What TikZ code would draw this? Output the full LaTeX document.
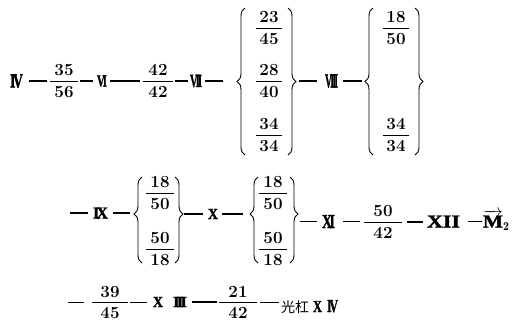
\documentclass[tikz,border=0pt]{standalone}
\usepackage{graphicx}
\usepackage{fontspec}
\newfontfamily\cjk{Noto Sans CJK SC}
\newfontfamily\rnfont[FakeBold=1.5]{Liberation Serif}
\usetikzlibrary{decorations.pathreplacing}
\newcommand\rn[3]{\resizebox{#1}{#2}{\rnfont\bfseries #3}}
\newcommand\kk{\kern-.18em}
\newcommand\fr[3]{\vbox{\hbox to #1{\hss#2\hss}\kern4.8pt\hrule height 0.8pt\kern4.8pt\hbox to #1{\hss#3\hss}}}
\begin{document}
\begin{tikzpicture}[x=1pt,y=-1pt,
  every node/.style={inner sep=0pt, outer sep=0pt, font=\fontsize{17}{19}\selectfont\bfseries},
  conn/.style={line width=1.4pt},
  brc/.style={line width=0.9pt, decorate, decoration={brace,amplitude=8pt}}]
\useasboundingbox (0,0) rectangle (514,322);
% ---------- row 1
\node (r4) at (16.5,81) {\rn{13pt}{13pt}{I\kk V}};
\node (f1) at (64,81) {\fr{28pt}{35}{56}};
\node (r6) at (102,81) {\rn{10pt}{11pt}{V\kk I}};
\node (f2) at (158,81) {\fr{30pt}{42}{42}};
\node (r7) at (196,81) {\rn{12pt}{12pt}{V\kk I\kk I}};
\node (g1a) at (269,28) {\fr{26pt}{23}{45}};
\node (g1b) at (269,81) {\fr{26pt}{28}{40}};
\node (g1c) at (269,135) {\fr{26pt}{34}{34}};
\node (r8) at (331.5,81) {\rn{13pt}{13pt}{V\kk I\kk I\kk I}};
\node (g2a) at (396,28) {\fr{26pt}{18}{50}};
\node (g2c) at (396,135) {\fr{26pt}{34}{34}};
\coordinate (b1L) at (237,81);
\coordinate (b1R) at (296,81);
\coordinate (b2L) at (365,81);
\draw[brc] (245,155) -- (245,8);
\draw[brc] (288,8) -- (288,155);
\draw[brc] (373,155) -- (373,8);
\draw[brc] (415,8) -- (415,155);
\draw[conn,shorten <=6pt,shorten >=3pt] (r4.east) -- (r4.east -| f1.west);
\draw[conn,shorten <=2pt,shorten >=4pt] (f1.east) -- (f1.east -| r6.west);
\draw[conn,shorten <=3pt,shorten >=3pt] (r6.east) -- (r6.east -| f2.west);
\draw[conn,shorten <=2pt,shorten >=2pt] (f2.east) -- (f2.east -| r7.west);
\draw[conn,shorten <=3pt,shorten >=14pt] (r7.east) -- (r7.east -| b1L);
\draw[conn,shorten <=3pt,shorten >=8pt] (b1R) -- (b1R -| r8.west);
\draw[conn,shorten <=5pt,shorten >=3pt] (r8.east) -- (r8.east -| b2L);
% ---------- row 2
\coordinate (s2) at (70,213);
\node (r9) at (100.5,213) {\rn{15pt}{11pt}{I\kk X}};
\node (h1a) at (160,193) {\fr{28pt}{18}{50}};
\node (h1b) at (160,249) {\fr{28pt}{50}{18}};
\node (r10) at (213,214) {\rn{10pt}{10pt}{X}};
\node (h2a) at (273,193) {\fr{28pt}{18}{50}};
\node (h2b) at (273,249) {\fr{28pt}{50}{18}};
\node (r11) at (328.5,221.5) {\rn{13pt}{13pt}{X\kk I}};
\node (f3) at (383,222) {\fr{38pt}{50}{42}};
\node (r12) at (443.5,221.5) {\rn{33pt}{12pt}{XII}};
\node[anchor=base west] (m2) at (483,227.5) {$\overrightarrow{\hbox{\rn{20pt}{12pt}{M}}}_{\mathbf{2}}$};
\coordinate (b3L) at (134,214);
\coordinate (b3R) at (183,214);
\coordinate (b4L) at (250,214);
\coordinate (b4R) at (298,214);
\draw[brc,decoration={aspect=0.57}] (142,263) -- (142,177);
\draw[brc,decoration={aspect=0.43}] (175,177) -- (175,263);
\draw[brc,decoration={aspect=0.57}] (258,263) -- (258,177);
\draw[brc,decoration={aspect=0.43}] (290,177) -- (290,263);
\draw[conn,shorten >=5pt] (s2) -- (s2 -| r9.west);
\draw[conn,shorten <=5pt,shorten >=4pt] (r9.east) -- (r9.east -| b3L);
\draw[conn,shorten <=1pt,shorten >=5pt] (b3R) -- (b3R -| r10.west);
\draw[conn,shorten <=4pt,shorten >=7pt] (r10.east) -- (r10.east -| b4L);
\draw[conn,shorten <=2pt,shorten >=5pt] (b4R |- r11.west) -- (r11.west);
\draw[conn,shorten <=8pt,shorten >=4pt] (r11.east) -- (r11.east -| f3.west);
\draw[conn,shorten <=5pt,shorten >=4pt] (f3.east) -- (f3.east -| r12.west);
\draw[conn,shorten <=8pt,shorten >=1pt] (r12.east) -- (r12.east -| m2.west);
% ---------- row 3
\coordinate (s3) at (68,302.5);
\node (f4) at (110,302.5) {\fr{36pt}{39}{45}};
\node[anchor=base west] (x3) at (153,307) {\rn{10pt}{10pt}{X}\hspace{10pt}\rn{14pt}{10pt}{I\kk I\kk I}};
\node (f5) at (238,302.5) {\fr{38pt}{21}{42}};
\node[anchor=base west] (gx) at (281,312) {{\fontsize{14}{14}\selectfont\mdseries\cjk 光杠}\hspace{4pt}\rn{9pt}{11pt}{X}\hspace{5pt}\rn{11pt}{12pt}{I\kk V}};
\draw[conn,shorten >=8pt] (s3) -- (s3 -| f4.west);
\draw[conn,shorten <=2pt,shorten >=6pt] (f4.east) -- (f4.east -| x3.west);
\draw[conn,shorten <=5pt,shorten >=2pt] (x3.east) -- (x3.east -| f5.west);
\draw[conn,shorten <=3pt,shorten >=2pt] (f5.east) -- (f5.east -| gx.west);
\end{tikzpicture}
\end{document}
